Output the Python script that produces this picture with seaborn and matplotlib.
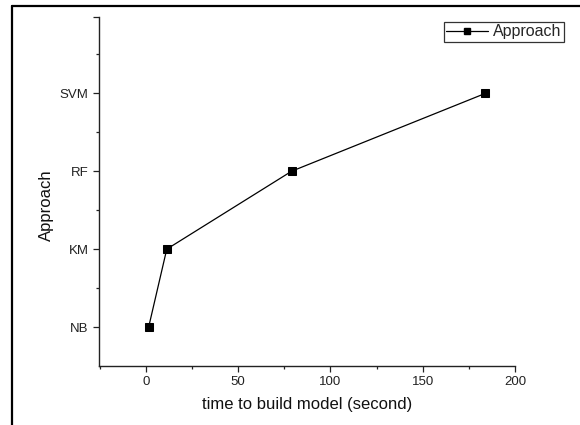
import matplotlib
matplotlib.use("Agg")
import matplotlib.pyplot as plt
from matplotlib.lines import Line2D
from matplotlib.ticker import FixedLocator
import seaborn as sns
import pandas as pd

approaches = ["NB", "KM", "RF", "SVM"]
build_time = [1.6, 11.4, 79.0, 184.0]
x_ticks = [0, 50, 100, 150, 200]

sns.set_style("white")
plt.rcParams['font.family'] = ['Liberation Sans', 'DejaVu Sans']

df = pd.DataFrame({"time": build_time, "pos": list(range(len(approaches))), "Approach": approaches})

fig = plt.figure(figsize=(5.8, 4.25), dpi=100)
L, R, B, T = 99, 515, 366, 17
ax = fig.add_axes([L/580, 1-B/425, (R-L)/580, (B-T)/425])

sns.lineplot(data=df, x="time", y="pos", ax=ax, sort=False, color="black",
             marker="s", markersize=5.8, markeredgecolor="black", linewidth=0.9,
             legend=False)

ax.set_xlim(-25.3, 200)
ax.set_ylim(-0.5, 3.98)
ax.set_xticks(x_ticks)
ax.xaxis.set_minor_locator(FixedLocator([-25, 25, 75, 125, 175]))
ax.set_yticks(list(range(len(approaches))) + [3.98])
ax.set_yticklabels(approaches + [""])
ax.yaxis.set_minor_locator(FixedLocator([0.5, 1.5, 2.5, 3.5]))

for s in ["top", "right"]:
    ax.spines[s].set_visible(False)
for s in ["left", "bottom"]:
    ax.spines[s].set_color("#222222")
    ax.spines[s].set_linewidth(1.0)

ax.tick_params(axis="both", which="major", direction="out", length=4.5, width=0.9,
               labelsize=9.5, color="#222222", labelcolor="#222222", pad=3,
               left=True, bottom=True)
ax.tick_params(axis="both", which="minor", direction="out", length=2.5, width=0.9,
               color="#222222", left=True, bottom=True)

ax.set_xlabel("time to build model (second)", fontsize=12, labelpad=6, color="#111111")
ax.set_ylabel("Approach", fontsize=12, color="#111111")
ax.yaxis.set_label_coords(-0.108, 0.46)

handle = Line2D([], [], color="black", linewidth=0.9, marker="s", markersize=4,
                markeredgecolor="black")
leg = ax.legend([handle], ["Approach"], loc="upper right",
                bbox_to_anchor=(564/580, 1-22/425),
                bbox_transform=fig.transFigure, frameon=True, fancybox=False,
                fontsize=11.5, handlelength=2.6, handletextpad=0.35,
                borderpad=0.15, borderaxespad=0)
leg.get_frame().set_edgecolor("black")
leg.get_frame().set_linewidth(0.9)

# outer frame of the figure
fig.add_artist(Line2D([12/580, 1.0], [1-6/425, 1-6/425], transform=fig.transFigure,
                      color="black", linewidth=1.6))
fig.add_artist(Line2D([12/580, 12/580], [0, 1-6/425], transform=fig.transFigure,
                      color="black", linewidth=1.6))

fig.savefig("out.png", dpi=100)
